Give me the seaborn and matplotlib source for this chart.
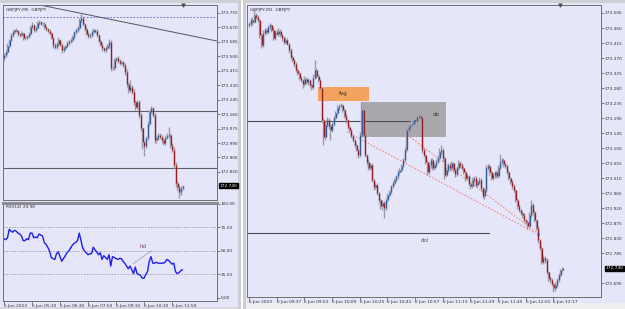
import numpy as np
import pandas as pd
import matplotlib
matplotlib.use("Agg")
import matplotlib.pyplot as plt
import seaborn as sns
from matplotlib.patches import Rectangle

# ---------------- data ----------------
# Left chart: GBPJPY M5, closes (price)
m5_first_open = 173.490
m5_close = [173.508, 173.525, 173.561, 173.596, 173.625, 173.643, 173.655, 173.649, 173.631, 173.625,
            173.637, 173.608, 173.608, 173.619, 173.631, 173.672, 173.684, 173.655, 173.666, 173.696,
            173.702, 173.690, 173.690, 173.672, 173.660, 173.649, 173.637, 173.608, 173.566, 173.555,
            173.572, 173.596, 173.566, 173.537, 173.549, 173.561, 173.578, 173.590, 173.596, 173.613,
            173.643, 173.655, 173.666, 173.713, 173.725, 173.690, 173.660, 173.631, 173.619, 173.625,
            173.643, 173.655, 173.649, 173.625, 173.590, 173.566, 173.549, 173.537, 173.549, 173.561,
            173.584, 173.431, 173.431, 173.478, 173.490, 173.472, 173.461, 173.466, 173.449, 173.408,
            173.337, 173.302, 173.319, 173.290, 173.231, 173.202, 173.231, 173.155, 173.078, 172.996,
            172.973, 173.020, 173.102, 173.172, 173.196, 173.155, 173.008, 173.020, 173.037, 173.025,
            173.008, 172.990, 173.020, 173.031, 173.037, 172.978, 172.949, 172.861, 172.755, 172.731,
            172.702, 172.726, 172.740]
m5_up_wick = [12, 10, 15, 8, 10, 12, 8, 10, 6, 8, 10, 8, 12, 6, 10, 15, 20, 8, 10, 12,
              10, 8, 12, 10, 8, 6, 10, 8, 6, 10, 12, 15, 8, 10, 12, 8, 10, 8, 12, 10,
              8, 10, 12, 15, 30, 10, 8, 12, 10, 15, 10, 12, 8, 10, 8, 10, 12, 8, 10, 12,
              20, 15, 10, 12, 8, 10, 12, 10, 8, 12, 15, 10, 40, 12, 20, 10, 15, 12, 10, 8,
              10, 12, 15, 10, 12, 8, 10, 12, 15, 10, 12, 10, 15, 20, 50, 10, 12, 20, 15, 12,
              10, 12, 6]
m5_dn_wick = [15, 10, 12, 10, 8, 12, 10, 8, 12, 10, 8, 10, 12, 8, 10, 12, 8, 10, 12, 8,
              10, 8, 12, 10, 8, 12, 10, 8, 15, 12, 10, 12, 8, 15, 10, 12, 8, 10, 12, 10,
              8, 10, 12, 8, 10, 12, 10, 8, 12, 10, 10, 8, 12, 10, 12, 8, 15, 10, 12, 8,
              10, 20, 12, 10, 8, 12, 10, 8, 12, 15, 20, 15, 12, 10, 15, 20, 12, 15, 20, 40,
              60, 15, 12, 10, 8, 12, 20, 15, 12, 10, 15, 12, 10, 8, 12, 15, 10, 20, 25, 20,
              35, 15, 10]
rsi14 = [63, 62, 64, 73, 71, 70, 72, 71, 69, 68, 66, 61, 61, 63, 62, 69, 69, 64, 65, 64,
         68, 67, 66, 59, 57, 54, 50, 43, 42, 41, 47, 49, 44, 39, 42, 45, 48, 50, 53, 56,
         58, 59, 61, 69, 61, 53, 50, 48, 46, 47, 47, 54, 51, 49, 46, 48, 41, 45, 43, 41,
         46, 34, 44, 43, 42, 41, 42, 42, 39, 37, 34, 31, 34, 30, 26, 33, 26, 25, 24, 21,
         21, 25, 28, 39, 44, 37, 37, 38, 37, 37, 37, 37, 38, 41, 40, 38, 36, 37, 28, 26,
         27, 29, 29.98]
m5_ticks = ["6 Jun 2023", "6 Jun 05:10", "6 Jun 06:30", "6 Jun 07:50",
            "6 Jun 09:10", "6 Jun 10:30", "6 Jun 11:50"]
m5_price_ticks = [173.755, 173.670, 173.585, 173.500, 173.415, 173.330, 173.245,
                  173.160, 173.075, 172.990, 172.905, 172.820]
rsi_ticks = [100, 75, 50, 25, 0]
m5_high_level = 173.731
m5_levels = [173.178, 172.843]
m5_trend = [(20.6, 173.802), (121.7, 173.590)]
m5_hd = [(73.7, 36.2), (84.0, 50.0)]

# Right chart: GBPJPY M1
m1_first_open = 173.470
m1_close = [173.473, 173.485, 173.479, 173.500, 173.494, 173.485, 173.440, 173.410, 173.446, 173.455,
            173.449, 173.464, 173.470, 173.455, 173.431, 173.449, 173.443, 173.452, 173.440, 173.431,
            173.419, 173.425, 173.413, 173.395, 173.374, 173.365, 173.353, 173.335, 173.326, 173.311,
            173.305, 173.293, 173.308, 173.299, 173.305, 173.290, 173.284, 173.311, 173.335, 173.317,
            173.305, 173.281, 173.185, 173.134, 173.170, 173.185, 173.167, 173.155, 173.173, 173.191,
            173.206, 173.221, 173.227, 173.230, 173.215, 173.197, 173.185, 173.164, 173.155, 173.137,
            173.125, 173.110, 173.095, 173.080, 173.140, 173.215, 173.140, 173.080, 173.059, 173.041,
            173.050, 173.005, 172.984, 172.990, 172.966, 172.945, 172.927, 172.936, 172.921, 172.945,
            172.960, 172.969, 172.987, 172.996, 173.005, 173.017, 173.029, 173.035, 173.047, 173.065,
            173.095, 173.155, 173.164, 173.170, 173.173, 173.185, 173.182, 173.194, 173.197, 173.191,
            173.095, 173.080, 173.059, 173.029, 173.050, 173.065, 173.041, 173.050, 173.059, 173.071,
            173.089, 173.095, 173.071, 173.020, 173.035, 173.050, 173.041, 173.056, 173.035, 173.023,
            173.041, 173.056, 173.050, 173.041, 173.029, 173.011, 173.017, 172.993, 172.987, 173.005,
            173.011, 172.990, 172.999, 173.005, 172.981, 172.957, 172.975, 173.041, 173.047, 173.029,
            173.011, 173.020, 173.029, 173.017, 173.041, 173.059, 173.065, 173.053, 173.047, 173.029,
            173.011, 172.999, 172.987, 172.975, 172.945, 172.927, 172.915, 172.906, 172.900, 172.885,
            172.879, 172.867, 172.900, 172.930, 172.909, 172.885, 172.861, 172.825, 172.801, 172.759,
            172.771, 172.765, 172.729, 172.711, 172.705, 172.693, 172.681, 172.690, 172.705, 172.720,
            172.735, 172.740]
m1_up_wick = [6, 5, 8, 15, 6, 5, 4, 6, 9, 6, 5, 7, 6, 4, 8, 5, 6, 10, 5, 4,
              6, 9, 5, 4, 6, 5, 4, 6, 5, 4, 5, 4, 8, 6, 5, 4, 6, 12, 30, 6,
              5, 4, 3, 6, 15, 8, 5, 6, 7, 5, 6, 8, 5, 6, 4, 5, 6, 4, 5, 4,
              5, 4, 6, 4, 8, 24, 6, 5, 4, 8, 6, 5, 4, 6, 5, 4, 6, 8, 5, 6,
              5, 6, 4, 5, 6, 4, 5, 6, 5, 6, 8, 6, 5, 4, 6, 5, 4, 8, 10, 6,
              5, 6, 4, 5, 8, 6, 5, 6, 8, 10, 12, 15, 6, 5, 8, 6, 5, 6, 4, 5,
              6, 8, 6, 5, 4, 6, 5, 4, 6, 8, 6, 5, 6, 8, 5, 4, 6, 9, 6, 5,
              6, 5, 4, 6, 8, 24, 6, 5, 4, 6, 5, 4, 6, 5, 4, 6, 5, 4, 6, 5,
              4, 5, 8, 15, 6, 5, 4, 5, 4, 6, 10, 6, 5, 4, 6, 5, 4, 8, 6, 5,
              4, 3]
m1_dn_wick = [5, 6, 8, 4, 6, 5, 8, 10, 6, 5, 6, 5, 8, 6, 5, 6, 4, 5, 6, 8,
              5, 6, 4, 8, 6, 5, 8, 6, 5, 6, 6, 12, 5, 6, 8, 6, 10, 5, 4, 6,
              5, 4, 8, 24, 10, 6, 8, 30, 5, 6, 4, 5, 6, 4, 6, 5, 8, 6, 5, 6,
              5, 6, 4, 8, 6, 6, 5, 6, 8, 5, 6, 5, 8, 6, 5, 8, 10, 12, 30, 6,
              5, 6, 4, 5, 6, 4, 8, 5, 6, 4, 5, 6, 4, 5, 6, 4, 5, 6, 5, 4,
              8, 6, 5, 10, 6, 8, 5, 6, 5, 4, 5, 6, 8, 12, 6, 5, 8, 6, 5, 8,
              5, 6, 8, 5, 6, 8, 6, 5, 8, 6, 5, 6, 5, 6, 8, 6, 10, 5, 6, 8,
              5, 6, 8, 5, 6, 4, 5, 8, 6, 5, 6, 5, 8, 6, 5, 8, 6, 5, 8, 6,
              5, 8, 5, 6, 8, 5, 6, 8, 6, 5, 6, 8, 6, 8, 10, 6, 12, 8, 5, 6,
              5, 4]
m1_ticks = ["6 Jun 2023", "6 Jun 09:37", "6 Jun 09:53", "6 Jun 10:09", "6 Jun 10:25",
            "6 Jun 10:41", "6 Jun 10:57", "6 Jun 11:13", "6 Jun 11:29", "6 Jun 11:45",
            "6 Jun 12:01", "6 Jun 12:17"]
m1_price_ticks = [173.506, 173.460, 173.415, 173.370, 173.325, 173.280, 173.235, 173.190,
                  173.145, 173.100, 173.055, 173.010, 172.965, 172.920, 172.875, 172.830,
                  172.785, 172.695]
fvg_zone = (40.0, 69.5, 173.242, 173.284)
ob_zone = (64.9, 114.1, 173.134, 173.239)
m1_level = (93.2, 173.182)
dol_level = (139.0, 172.846)
m1_dotted_a = [(56.7, 173.149), (165.6, 172.846)]
m1_dotted_b = [(91.5, 173.140), (166.8, 172.846)]
last_price = 172.740

# ---------------- style ----------------
sns.set_theme(style="white")
plt.rcParams["font.family"] = ["DejaVu Sans"]
BG = "#E6E6FA"
UP = "#2E5C9E"
DN = "#9A1C1C"
WICK = "#9C9CA8"
TXT = "#303030"
FS = 3.1
FS_ANN = 4.0

W, H = 625, 309
fig = plt.figure(figsize=(W / 100, H / 100), dpi=100)
fig.patch.set_facecolor(BG)


def axes_px(x0, y0, x1, y1):
    ax = fig.add_axes([x0 / W, 1 - y1 / H, (x1 - x0) / W, (y1 - y0) / H])
    ax.set_facecolor(BG)
    for s in ax.spines.values():
        s.set_color("#707070")
        s.set_linewidth(0.7)
    return ax


def fig_rect(x0, y0, x1, y1, color, z=0):
    fig.patches.append(Rectangle((x0 / W, 1 - y1 / H), (x1 - x0) / W, (y1 - y0) / H,
                                 transform=fig.transFigure, facecolor=color,
                                 edgecolor="none", zorder=z))


def draw_candles(ax, close, up_w, dn_w, first_open):
    c = np.asarray(close, dtype=float)
    o = np.r_[first_open, c[:-1]]
    hi = np.maximum(o, c) + np.asarray(up_w) * 0.001
    lo = np.minimum(o, c) - np.asarray(dn_w) * 0.001
    df = pd.DataFrame({"i": np.arange(len(c)), "o": o, "c": c, "h": hi, "l": lo})
    ax.vlines(df.i, df.l, df.h, colors=WICK, lw=1.0, zorder=3)
    bot = np.minimum(df.o, df.c)
    top = np.maximum(df.o, df.c)
    top = np.maximum(top, bot + 0.0025)
    cols = np.where(df.c >= df.o, UP, DN)
    ax.vlines(df.i + 0.25, bot, top, colors=cols, lw=0.95, zorder=4)


def price_axis(ax, ticks, fmt):
    ax.yaxis.tick_right()
    ax.set_yticks(ticks)
    ax.set_yticklabels([fmt.format(t) for t in ticks])
    ax.tick_params(axis="y", which="both", right=True, left=False, length=2, width=0.5,
                   color="#505050", pad=0.6, labelsize=FS, labelcolor=TXT)


def time_axis(ax, n_labels, labels, step):
    pos = [k * step for k in range(n_labels)]
    ax.set_xticks(pos)
    ax.set_xticklabels(labels)
    ax.tick_params(axis="x", bottom=True, length=2, width=0.5, color="#505050",
                   pad=0.3, labelsize=FS, labelcolor=TXT)
    for lbl in ax.get_xticklabels():
        lbl.set_ha("left")


def price_box(ax, y):
    ax.text(1.012, y, f"{y:.3f}", transform=ax.get_yaxis_transform(), ha="left",
            va="center", fontsize=FS, color="white", zorder=10, clip_on=False,
            bbox=dict(boxstyle="square,pad=0.15", fc="black", ec="black"))


# window chrome
fig_rect(0, 0, W, 3, "#CFCFD6", z=-1)
fig_rect(238, 0, 246, H, "#CDCDD2", z=-1)
fig_rect(241, 0, 242.5, H, "#FFFFFF", z=-1)
fig_rect(0, 306.5, 238, H, "#D8D8DE", z=-1)
fig_rect(246, 303, W, H, "#EFEFF2", z=-1)

# ---------------- left main (M5) ----------------
axL = axes_px(3, 5, 217, 200)
draw_candles(axL, m5_close, m5_up_wick, m5_dn_wick, m5_first_open)
axL.set_xlim(-0.57, 121.7)
axL.set_ylim(172.655, 173.802)
price_axis(axL, m5_price_ticks, "{:.3f}")
axL.set_xticks([])
axL.axhline(m5_high_level, color="#5A5AE6", lw=0.6, ls=(0, (2, 2)), zorder=2)
for lv in m5_levels:
    axL.axhline(lv, color="#5F5F68", lw=0.8, zorder=2)
axL.plot([p[0] for p in m5_trend], [p[1] for p in m5_trend], color="#55555E", lw=0.7, zorder=2)
axL.text(0.012, 0.985, "GBPJPY,M5  GBPJPY", transform=axL.transAxes, fontsize=FS,
         color=TXT, va="top", ha="left")
axL.scatter([102], [1.0], marker="v", s=4, color="#505050",
            transform=axL.get_xaxis_transform(), clip_on=False, zorder=6)
price_box(axL, last_price)

# ---------------- left RSI ----------------
axR = axes_px(3, 203, 217, 301)
rsi_df = pd.DataFrame({"i": np.arange(len(rsi14)), "rsi": rsi14})
sns.lineplot(data=rsi_df, x="i", y="rsi", ax=axR, color="#1E1EF0", lw=1.0)
axR.set_xlim(-0.57, 121.7)
axR.set_ylim(-3.2, 101)
for lv in (75, 50, 25):
    axR.axhline(lv, color="#8A8A96", lw=0.5, ls=(0, (2, 2)), zorder=1)
axR.plot([p[0] for p in m5_hd], [p[1] for p in m5_hd], color="#A5A5AE", lw=0.6)
axR.text(79.4, 55, "hd", fontsize=FS_ANN, color="#7A4A5A", ha="center", va="center")
price_axis(axR, rsi_ticks, "{:.2f}")
time_axis(axR, len(m5_ticks), m5_ticks, 16)
axR.set_xlabel("")
axR.set_ylabel("")
axR.spines["top"].set_linewidth(2.2)
axR.spines["top"].set_color("#8C8C94")
axR.text(0.012, 0.975, "RSI(14) 29.98", transform=axR.transAxes, fontsize=FS,
         color=TXT, va="top", ha="left")

# ---------------- right main (M1) ----------------
ax2 = axes_px(247, 5, 601, 297)
draw_candles(ax2, m1_close, m1_up_wick, m1_dn_wick, m1_first_open)
ax2.set_xlim(-1.16, 203.5)
ax2.set_ylim(172.654, 173.530)
price_axis(ax2, m1_price_ticks, "{:.3f}")
time_axis(ax2, len(m1_ticks), m1_ticks, 16)

x0, x1, y0, y1 = fvg_zone
ax2.add_patch(Rectangle((x0, y0), x1 - x0, y1 - y0, facecolor="#F4A35E", edgecolor="none", zorder=1))
ax2.text((x0 + x1) / 2, (y0 + y1) / 2, "fvg", fontsize=FS_ANN, color=TXT, ha="center",
         va="center", zorder=5)
x0, x1, y0, y1 = ob_zone
ax2.add_patch(Rectangle((x0, y0), x1 - x0, y1 - y0, facecolor="#A9A9AD", edgecolor="none", zorder=1))
ax2.text(x1 - 6, 173.200, "ob", fontsize=FS_ANN, color=TXT, ha="center", va="center", zorder=5)

ax2.plot([-1.16, m1_level[0]], [m1_level[1]] * 2, color="#4F4F58", lw=0.8, zorder=2)
ax2.plot([-1.16, dol_level[0]], [dol_level[1]] * 2, color="#4F4F58", lw=0.8, zorder=2)
ax2.text(102, 172.822, "dol", fontsize=FS_ANN, color="#7A4A5A", ha="center", va="center")
for ln in (m1_dotted_a, m1_dotted_b):
    ax2.plot([p[0] for p in ln], [p[1] for p in ln], color="#EE8A80", lw=0.8,
             ls=(0, (1.5, 1.5)), zorder=2)
ax2.scatter([166.8], [172.842], marker="x", s=3, color="#3060D0", lw=0.6, zorder=6)
ax2.text(0.008, 0.99, "GBPJPY,M1  GBPJPY", transform=ax2.transAxes, fontsize=FS,
         color=TXT, va="top", ha="left")
ax2.scatter([180], [1.0], marker="v", s=4, color="#505050",
            transform=ax2.get_xaxis_transform(), clip_on=False, zorder=6)
price_box(ax2, last_price)

fig.savefig("out.png", dpi=100, facecolor=fig.get_facecolor())
